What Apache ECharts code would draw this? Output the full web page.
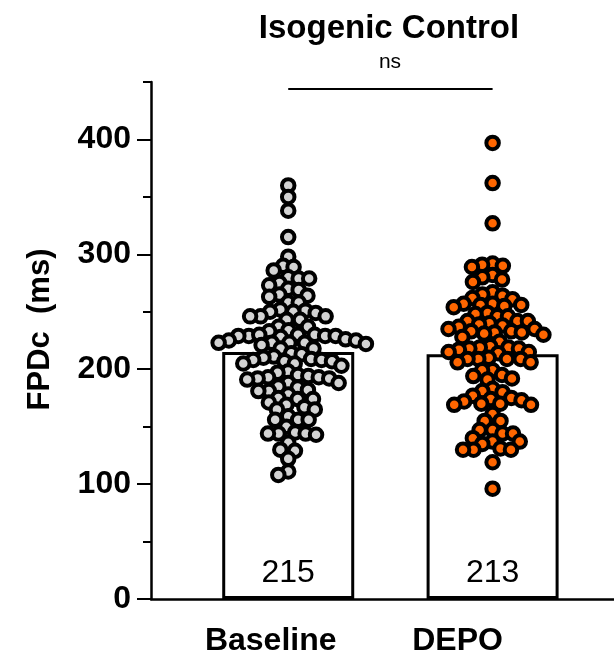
<!DOCTYPE html>
<html>
<head>
<meta charset="utf-8">
<script src="https://cdn.jsdelivr.net/npm/echarts@6/dist/echarts.min.js"></script>
<style>html,body{margin:0;padding:0;background:#fff}#c{width:614px;height:660px}</style>
</head>
<body>
<div id="c"></div>
<script>
// ---- data ----
var categories = ['Baseline', 'DEPO'];
var categoryPos = [1, 2];
var means = [215, 213];
var baselineValues = [360, 350, 338, 315, 298,
  290, 289, 286, 280, 279, 279, 275, 273, 270, 269, 265, 264, 263, 258, 258,
  252, 251, 250, 250, 249, 246, 246, 246, 243, 243,
  237, 237, 234, 233, 230, 230, 229, 229, 229, 229, 228, 230,
  226, 225, 225, 223, 223, 223, 223, 222, 221, 218, 218, 214, 213, 211,
  210, 209, 208, 208, 207, 207, 205, 205, 203,
  198, 197, 195, 194, 193, 193, 192, 192, 191, 188, 188,
  185, 184, 182, 181, 181, 178, 175, 174, 174,
  171, 169, 167, 165, 165, 159, 156, 156, 156, 150,
  145, 144, 144, 144, 143, 136, 130, 129, 122, 111, 108];
var depoValues = [397, 362, 327,
  292, 291, 290, 289, 282, 280, 278, 276, 267, 265, 264, 262,
  261, 257, 257, 256, 256, 255, 254, 249, 248, 246, 246,
  242, 242, 242, 240, 239,
  238, 237, 235, 235, 233, 233, 232, 232, 231, 230, 228,
  224, 220, 219, 219, 218, 218, 217, 215, 215, 214,
  210, 209, 209, 209, 209, 206, 206,
  199, 199, 195, 194, 192, 191,
  183, 181, 180, 177, 175, 174, 173, 172, 170, 170, 169, 169,
  161, 155, 155, 147, 147, 144, 144, 140, 137, 137, 135,
  131, 130, 130, 130, 119, 96];
var yTickLabels = [0, 100, 200, 300, 400];
var sigLabel = 'ns';
var sigLevel = 444;
var title = 'Isogenic Control';
var yName = 'FPDc  (ms)';

var FONT = '"Liberation Sans", Arial, Helvetica, sans-serif';
var chart = echarts.init(document.getElementById('c'), null, {renderer: 'canvas'});

var base = {
  animation: false,
  backgroundColor: '#fff',
  grid: {left: 151, right: 0, top: 82, bottom: 61, containLabel: false},
  xAxis: {
    type: 'value', min: 0.3286, max: 2.594,
    splitLine: {show: false},
    axisLine: {show: true, onZero: false, lineStyle: {color: '#000', width: 2.5}},
    axisTick: {show: false},
    axisLabel: {
      show: true, customValues: categoryPos, margin: 26,
      formatter: function (v) { var i = categoryPos.indexOf(v); return i === 0 ? '{a|' + categories[0] + '}' : '{b|' + categories[1] + '}'; },
      rich: {
        a: {fontFamily: FONT, fontSize: 32, fontWeight: 'bold', color: '#000', padding: [0, 35, 0, 0]},
        b: {fontFamily: FONT, fontSize: 32, fontWeight: 'bold', color: '#000', padding: [0, 70, 0, 0]}
      }
    }
  },
  yAxis: [{
    type: 'value', min: 0, max: 450, interval: 50, position: 'left',
    splitLine: {show: false},
    axisLine: {show: true, lineStyle: {color: '#000', width: 2.5}},
    axisTick: {show: true, length: 8, lineStyle: {color: '#000', width: 2}},
    axisLabel: {show: false},
    name: yName, nameLocation: 'middle', nameGap: 95,
    nameTextStyle: {fontFamily: FONT, fontSize: 31, fontWeight: 'bold', color: '#000', padding: [0, 0, 0, 22]}
  }, {
    type: 'value', min: 0, max: 450, interval: 100, position: 'left',
    splitLine: {show: false},
    axisLine: {show: false},
    axisTick: {show: true, length: 14, customValues: yTickLabels, lineStyle: {color: '#000', width: 2}},
    axisLabel: {show: true, customValues: yTickLabels, margin: 20, fontFamily: FONT, fontSize: 32, fontWeight: 'bold', color: '#000'}
  }],
  graphic: [
    {type: 'text', x: 389, y: 29, style: {text: title, font: 'bold 33px ' + FONT, fill: '#000', align: 'center', verticalAlign: 'middle'}},
    {type: 'text', x: 390, y: 62, style: {text: sigLabel, font: 'normal 21px ' + FONT, fill: '#000', align: 'center', verticalAlign: 'middle'}}
  ],
  series: []
};
chart.setOption(base);

function swarmOffsets(values, yPx, D) {
  var order = values.map(function (v, i) { return i; }).sort(function (a, b) { return values[b] - values[a]; });
  var placed = [], xs = new Array(values.length);
  order.forEach(function (i) {
    var y = yPx(values[i]);
    var near = placed.filter(function (p) { return Math.abs(p.y - y) < D; });
    var cands = [0];
    near.forEach(function (p) {
      var dx = Math.sqrt(D * D - (p.y - y) * (p.y - y));
      cands.push(p.x - dx, p.x + dx);
    });
    cands.sort(function (a, b) { return Math.abs(a) - Math.abs(b) || a - b; });
    var best = 0;
    for (var k = 0; k < cands.length; k++) {
      var c = cands[k];
      var ok = near.every(function (p) { return (p.x - c) * (p.x - c) + (p.y - y) * (p.y - y) >= D * D - 1e-6; });
      if (ok) { best = c; break; }
    }
    placed.push({x: best, y: y});
    xs[i] = best;
  });
  return xs;
}

var p1 = chart.convertToPixel({xAxisIndex: 0}, 1);
var p2 = chart.convertToPixel({xAxisIndex: 0}, 2);
var pxPerUnit = p2 - p1;
var yPx = function (v) { return chart.convertToPixel({yAxisIndex: 0}, v); };
var D = 10.5;

function swarmData(values, xc) {
  var offs = swarmOffsets(values, yPx, D);
  return values.map(function (v, i) { return [xc + offs[i] / pxPerUnit, v]; });
}

chart.setOption({
  series: [
    {
      type: 'bar', xAxisIndex: 0, yAxisIndex: 0, barWidth: 132, z: 1,
      data: categoryPos.map(function (x, i) { return [x, means[i]]; }),
      itemStyle: {color: '#fff', borderColor: '#000', borderWidth: 3},
      label: {show: true, position: 'insideBottom', distance: 10, formatter: function (p) { return p.value[1]; },
        fontFamily: FONT, fontSize: 32, color: '#000'}
    },
    {
      type: 'line', xAxisIndex: 0, yAxisIndex: 0, symbol: 'none', z: 3,
      data: [[categoryPos[0], sigLevel], [categoryPos[1], sigLevel]],
      lineStyle: {color: '#000', width: 2}
    },
    {
      type: 'scatter', name: categories[0], xAxisIndex: 0, yAxisIndex: 0, z: 5,
      data: swarmData(baselineValues, categoryPos[0]),
      symbol: 'circle', symbolSize: 12.5,
      itemStyle: {color: '#d3d3d3', borderColor: '#000', borderWidth: 4, opacity: 1}
    },
    {
      type: 'scatter', name: categories[1], xAxisIndex: 0, yAxisIndex: 0, z: 5,
      data: swarmData(depoValues, categoryPos[1]),
      symbol: 'circle', symbolSize: 12.5,
      itemStyle: {color: '#ff6600', borderColor: '#000', borderWidth: 4, opacity: 1}
    }
  ]
});
</script>
</body>
</html>
